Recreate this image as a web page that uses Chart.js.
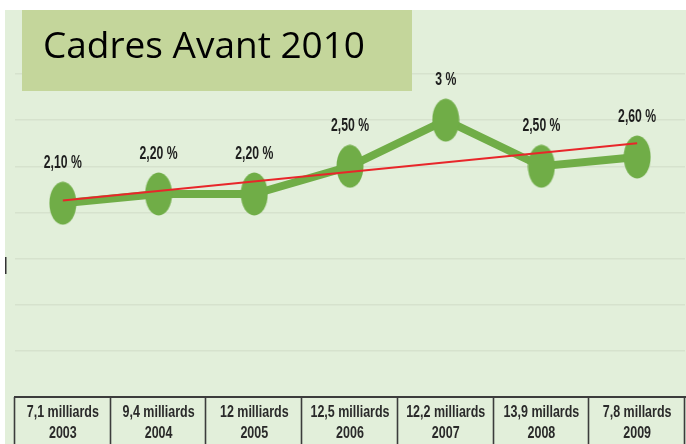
<!DOCTYPE html>
<html>
<head>
<meta charset="utf-8">
<script src="https://cdn.jsdelivr.net/npm/chart.js@4/dist/chart.umd.min.js"></script>
<style>
  html, body { margin: 0; padding: 0; background: #ffffff; }
  #wrap { position: relative; width: 686px; height: 444px; }
  canvas { display: block; }
</style>
</head>
<body>
<div id="wrap"><canvas id="c" width="686" height="444"></canvas></div>
<script>
// ---- data ----
const years = ['2003', '2004', '2005', '2006', '2007', '2008', '2009'];
const amounts = ['7,1 milliards', '9,4 milliards', '12 milliards', '12,5 milliards', '12,2 milliards', '13,9 millards', '7,8 millards'];
const rates = [2.1, 2.2, 2.2, 2.5, 3.0, 2.5, 2.6];
const rateLabels = ['2,10 %', '2,20 %', '2,20 %', '2,50 %', '3 %', '2,50 %', '2,60 %'];
const trendValues = [2.13, null, null, null, null, null, 2.75];
const yMin = 0, yMax = 3.5, yStep = 0.5;
const titleText = 'Cadres Avant 2010';

// ---- styles ----
const GREEN = '#70ad47';
const BG = '#e2efda';
const TITLE_BG = '#c4d69b';

function ellipsePoint(w, h, color) {
  const cv = document.createElement('canvas');
  cv.width = w; cv.height = h;
  const c = cv.getContext('2d');
  c.fillStyle = color;
  c.beginPath();
  c.ellipse(w / 2, h / 2, w / 2 - 0.5, h / 2 - 0.5, 0, 0, Math.PI * 2);
  c.fill();
  return cv;
}
const dot = ellipsePoint(28, 44, GREEN);

function condensedText(ctx, text, x, y, font, sx, color) {
  ctx.save();
  ctx.font = font;
  ctx.fillStyle = color;
  ctx.textAlign = 'center';
  ctx.textBaseline = 'middle';
  ctx.translate(x, y);
  ctx.scale(sx, 1);
  ctx.fillText(text, 0, 0);
  ctx.restore();
}

const decor = {
  id: 'decor',
  beforeDraw(chart) {
    const ctx = chart.ctx;
    ctx.save();
    ctx.fillStyle = '#ffffff';
    ctx.fillRect(0, 0, chart.width, chart.height);
    ctx.fillStyle = BG;
    ctx.fillRect(5, 10, chart.width - 5, chart.height - 10);
    ctx.fillStyle = '#333';
    ctx.fillRect(5, 257, 1.5, 17);
    ctx.restore();
  },
  afterDatasetsDraw(chart) {
    const ctx = chart.ctx;
    const meta = chart.getDatasetMeta(1);
    meta.data.forEach((pt, i) => {
      condensedText(ctx, rateLabels[i], pt.x, pt.y - 40, 'bold 18px "Liberation Sans", Arial, sans-serif', 0.68, '#1e1e1e');
    });
  },
  afterDraw(chart) {
    const ctx = chart.ctx;
    const xs = chart.scales.x;
    const top = chart.chartArea.bottom;
    const n = xs.getLabels().length;
    const half = (xs.getPixelForValue(1) - xs.getPixelForValue(0)) / 2;
    ctx.save();
    ctx.strokeStyle = '#3c3c3c';
    ctx.lineWidth = 2;
    ctx.beginPath();
    ctx.moveTo(xs.getPixelForValue(0) - half - 1, top);
    ctx.lineTo(chart.width, top);
    ctx.stroke();
    ctx.lineWidth = 1.6;
    for (let i = 0; i <= n; i++) {
      const bx = Math.round(xs.getPixelForValue(0) - half + i * 2 * half) - 0.5;
      ctx.beginPath();
      ctx.moveTo(bx, top);
      ctx.lineTo(bx, chart.height);
      ctx.stroke();
    }
    xs.getLabels().forEach((lab, i) => {
      const cx = xs.getPixelForValue(i);
      condensedText(ctx, amounts[i], cx, top + 16, 'bold 16px "Liberation Sans", Arial, sans-serif', 0.78, '#2a2a2a');
      condensedText(ctx, lab, cx, top + 37, 'bold 16px "Liberation Sans", Arial, sans-serif', 0.78, '#2a2a2a');
    });
    ctx.fillStyle = TITLE_BG;
    ctx.fillRect(22, 10, 390, 81);
    ctx.font = '36px "Open Sans", sans-serif';
    const w = ctx.measureText(titleText).width;
    ctx.fillStyle = '#000';
    ctx.textAlign = 'left';
    ctx.textBaseline = 'alphabetic';
    ctx.translate(43, 58);
    ctx.scale(322 / w, 1);
    ctx.fillText(titleText, 0, 0);
    ctx.restore();
  }
};

new Chart(document.getElementById('c'), {
  type: 'line',
  data: {
    labels: years,
    datasets: [
      {
        data: trendValues,
        borderColor: '#e8262a',
        borderWidth: 2,
        pointRadius: 0,
        spanGaps: true,
        fill: false
      },
      {
        data: rates,
        borderColor: GREEN,
        borderWidth: 8,
        pointStyle: dot,
        pointRadius: 22,
        pointHoverRadius: 22,
        tension: 0,
        fill: false
      }
    ]
  },
  options: {
    responsive: false,
    animation: false,
    events: [],
    layout: { autoPadding: false, padding: { left: 15, right: 1, top: 74, bottom: 0 } },
    plugins: { legend: { display: false }, tooltip: { enabled: false }, title: { display: false } },
    scales: {
      x: {
        offset: true,
        grid: { display: false },
        border: { display: false },
        ticks: { display: false },
        afterFit(s) { s.height = 47; }
      },
      y: {
        min: yMin, max: yMax,
        ticks: { display: false, stepSize: yStep },
        grid: { color: '#d6e2cd', lineWidth: 1.5, drawTicks: false },
        border: { display: false },
        afterFit(s) { s.width = 0; }
      }
    }
  },
  plugins: [decor]
});
</script>
</body>
</html>
